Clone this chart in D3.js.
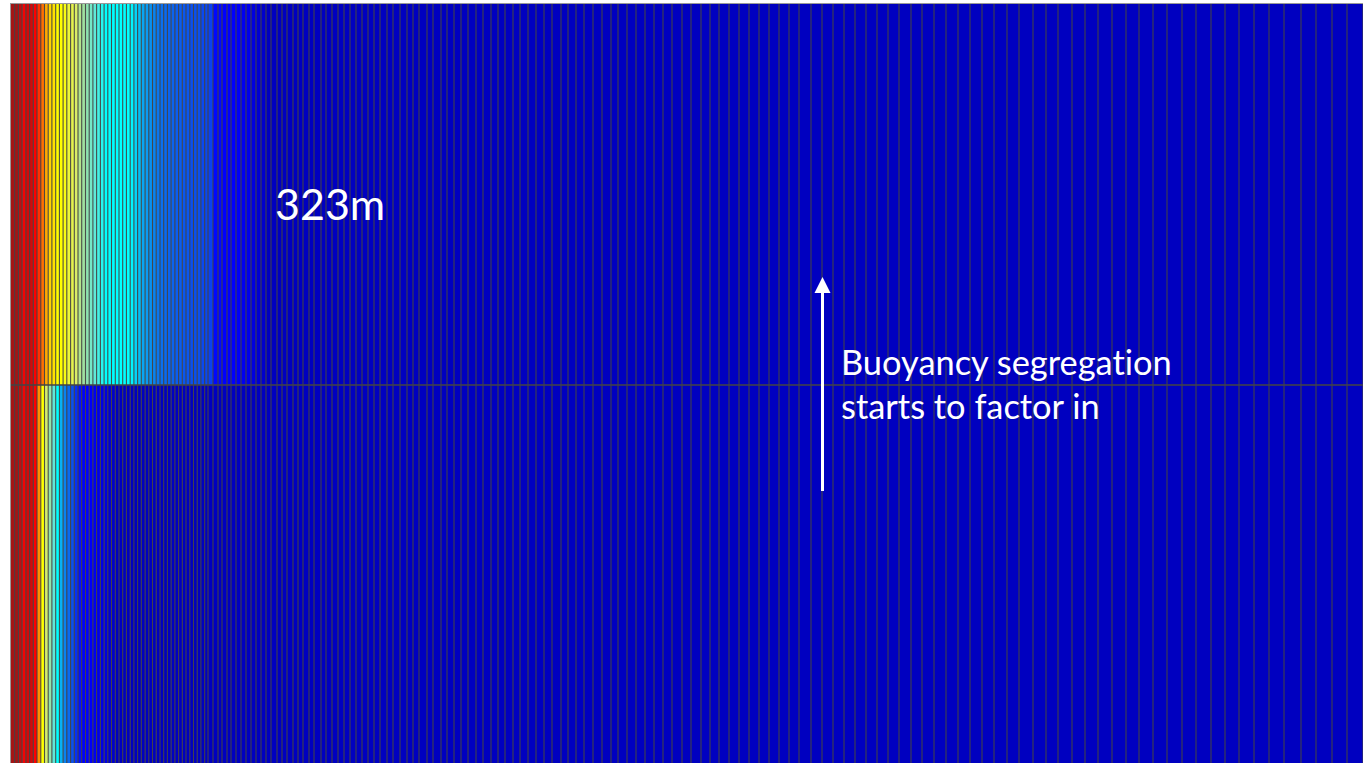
<!DOCTYPE html>
<html><head><meta charset="utf-8">
<script src="https://cdn.jsdelivr.net/npm/d3@7"></script>
<style>html,body{margin:0;padding:0;background:#fff;overflow:hidden}svg{display:block}text{font-family:Lato,sans-serif;fill:#fff;font-variant-ligatures:none}</style>
</head><body><svg id="c" width="1363" height="763"></svg>
<script>
// grid column boundaries along the horizontal axis
const columnEdges = [0,3.7,7.4,11.1,14.9,18.6,22.3,26,29.8,33.5,37.2,40.9,44.7,48.4,52.1,55.8,59.6,63.3,67,70.7,74.5,78.2,81.9,85.6,89.4,93.1,96.8,100.5,104.3,108,111.7,115.4,119.2,122.9,126.6,130.3,134.1,137.8,141.5,145.2,149,152.7,156.4,160.1,163.9,167.6,171.3,175,178.8,182.5,186.2,189.9,193.7,197,202,207,211,216,220,225,230,235,240,245,250,255,260,266,271,276,282,287,292,298,303,310,315,321,327,333,339,345,351,357,363,369,376,382,389,396,402,408,416,422,430,436,443,450,457,465,472,480,487,494,502,509,517,525,533,541,550,557,565,573,582,591,600,607,616,625,634,643,652,661,671,680,690,699,708,718,728,738,748,758,768,778,788,800,811,822,833,844,855,866,877,888,900,911,923,935,947,959,971,983,996,1008,1022,1035,1047,1061,1074,1087,1101,1115,1128,1142,1156,1171,1185,1200,1214,1228,1243,1258,1273,1290,1305,1321,1336,1352];
// layer boundaries along the vertical axis
const rowEdges = [0,381,759];
// concentration per column, upper layer (columns not listed are 0)
const upperValues = [1,1,.98,.93,.96,.96,.92,.89,.85,.81,.78,.77,.75,.75,.74,.72,.71,.69,.63,.6,.57,.53,.5,.47,.44,.4,.4,.4,.4,.4,.4,.4,.39,.36,.34,.32,.31,.3,.28,.26,.25,.24,.23,.23,.22,.22,.21,.21,.2,.2,.2,.19,.19,.18,.11,.11,.1,.1,.1,.09,.08,.07,.05,.03,.02];
// concentration per column, lower layer (columns not listed are 0)
const lowerValues = [1,1,.98,.93,.96,.96,.92,.83,.75,.68,.58,.5,.4,.33,.28,.24,.2,.16,.12,.1,.1,.09,.08,.07,.06,.05,.03,.02];
// colour ramp
const rampStops = [0,.1,.2,.3,.4,.5,.6,.7,.75,.85,.92,1];
const rampColors = ["#0000c0","#0000ff","#0a50f0","#0a90f0","#00ffff","#60e8d8","#a0e0a0","#e0f060","#ffff00","#ff7000","#ff0000","#a51515"];
// annotations
const depthLabel = "323m";
const noteLines = ["Buoyancy segregation","starts to factor in"];

const svg = d3.select("#c");
const x = d3.scaleLinear().domain([0,1352]).range([11,1363]);
const y = d3.scaleLinear().domain([0,759]).range([4,763]);
const color = d3.scaleLinear().domain(rampStops).range(rampColors);

const cells = [];
[upperValues,lowerValues].forEach((vals,r)=>{
  d3.pairs(columnEdges).forEach(([a,b],i)=>cells.push({a,b,r,v:i<vals.length?vals[i]:0}));
});
svg.append("g").selectAll("rect").data(cells).join("rect")
  .attr("x",d=>x(d.a)).attr("width",d=>x(d.b)-x(d.a)+0.5)
  .attr("y",d=>y(rowEdges[d.r])).attr("height",d=>y(rowEdges[d.r+1])-y(rowEdges[d.r]))
  .attr("fill",d=>color(d.v));

svg.append("g").selectAll("line").data(columnEdges.slice(1)).join("line")
  .attr("x1",d=>x(d)).attr("x2",d=>x(d)).attr("y1",y(0)).attr("y2",y(759))
  .attr("stroke","#444").attr("stroke-width",1.1).attr("stroke-opacity",.95);

svg.append("line").attr("x1",x(0)).attr("x2",x(1352)).attr("y1",y(381)).attr("y2",y(381))
  .attr("stroke","#444").attr("stroke-width",1.3);
// frame
svg.append("line").attr("x1",10.5).attr("x2",10.5).attr("y1",3).attr("y2",763).attr("stroke","#999").attr("stroke-width",1);
svg.append("line").attr("x1",10).attr("x2",1363).attr("y1",3.5).attr("y2",3.5).attr("stroke","#999").attr("stroke-width",1);

svg.append("text").attr("x",275).attr("y",220).attr("font-size",43).text(depthLabel);
svg.append("g").selectAll("text").data(noteLines).join("text")
  .attr("x",841).attr("y",(d,i)=>374.5+i*44).attr("font-size",34.4).text(d=>d);

// arrow
svg.append("line").attr("x1",822.5).attr("x2",822.5).attr("y1",491).attr("y2",292).attr("stroke","#fff").attr("stroke-width",3);
svg.append("path").attr("d",d3.line()([[822.5,277],[830.5,293],[814.5,293]])+"Z").attr("fill","#fff");
</script></body></html>
